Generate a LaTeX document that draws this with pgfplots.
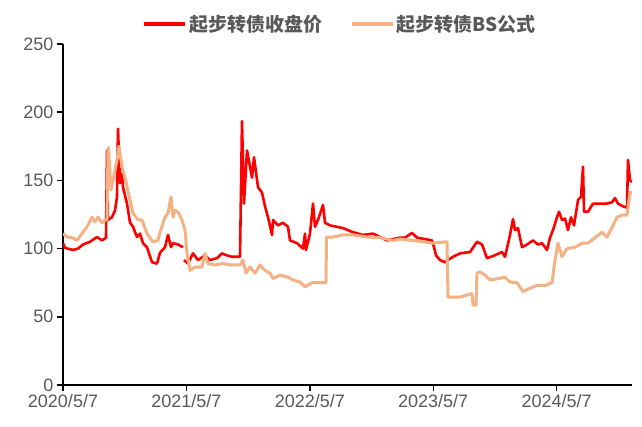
\documentclass[border=0pt]{standalone}
\usepackage{fontspec}
\setmainfont{Liberation Sans}
\newfontfamily\cjk{Noto Sans CJK SC}
\usepackage{pgfplots}
\pgfplotsset{compat=1.18}
\usepackage{pgfplotstable}
\definecolor{cred}{RGB}{255,0,0}
\definecolor{csal}{RGB}{244,177,131}
\definecolor{tgray}{RGB}{89,89,89}

% x: position along the time axis, one year = 123.4 units, 0 = 2020/5/7
\pgfplotstableread{
x y
0 104
2 100.5
10 99
15 100
20 103
27 105
34 108.5
39 106
43 108
44 172
45 121
49 123
52 128
54 138
55 188
57 148
59 155
60 145
64 133
67 119
70 116
74 108.5
77 111
80 104
84 101
89 90
94 89
97 97
102 101
105 110
108 101
110 104
115 103
120 101
120.5 nan
121 91.6
125 89
130 96.5
135 91.6
142 95
147 91.6
154 93
159 96.5
164 95
169 94
177 94
179 193.5
181 133
184 172
187 160
189 152
191 167
195 145
199 141
202 131
205 123
209 110
210 121
215 117
220 119
225 116
227 106
234 104
240 100
242 111
243 99
247 111
250 133
252 116
255 121
260 132
262 119
267 117
274 116
280 115
290 112
300 110
310 111
324 106
337 108
342 108
349 111.5
354 108
362 107
369 106
371 101
373 95
377 91.6
382 90
385 91.6
390 94
397 96.5
407 97.5
414 105
419 103
424 93
430 94.5
439 97.5
442 94
447 110
450 121.6
452 113.6
455 115
459 101
464 103
470 106
475 103
479 104
484 99
487 108
490 113.6
494 123
496 127
499 121
502 122
505 113.6
508 123
511 117
515 135.6
518 138
520 160
521 127
525 127
530 133
539 133
544 133
549 134
552 137
555 133
560 131
564 130
565 165
567 150
569 149
}\closeprice

\pgfplotstableread{
x y
0 111
4 108.5
9 108
14 106
19 111
24 116
29 123
32 119.5
35 123
39 119
42 121
44 121
45 172
45.5 174
48 143
50 150
54 165
56 175
59 160
62 152
67 135.6
70 126
75 121
79 121
84 111
90 105
95 106
97 112
102 123
105 126
108 138
110 123
112 128
115 127
119 121
122 113.6
124 96.5
127 84
132 86.5
139 86.5
142 96.5
145 89
152 88
159 89
169 88
177 88
180 91.6
183 82
187 86.5
192 82
197 88
202 84
207 82
210 78
217 80.6
225 79
230 77
237 75.5
242 72
249 75
263 75
263.5 108.5
270 108.5
280 110
290 110
304 108.5
317 108
330 106
337 107
355 105.6
369 104
384 105
385 64.5
397 64.5
409 67
410 58.6
413 58.6
414 82
417 83
422 80.6
427 77
435 78
442 79
447 75.5
454 75
460 68.5
467 71
474 73
482 73
489 75
492 91.6
495 104
499 94
504 100
512 101
519 104
525 104
532 108
539 112
544 108.5
550 117
554 123
559 124.6
564 124.6
567 141
569 141.5
}\bsvalue

\begin{document}
\begin{tikzpicture}
\begin{axis}[
  at={(0pt,0pt)}, anchor=south west,
  scale only axis, width=569pt, height=341pt,
  xmin=0, xmax=569, ymin=0, ymax=250,
  axis x line*=bottom, axis y line*=left,
  axis line style={-, black, line width=1.4pt},
  xtick={0,123.4,246.8,370.2,493.6},
  xticklabels={2020/5/7,2021/5/7,2022/5/7,2023/5/7,2024/5/7},
  ytick={0,50,100,150,200,250},
  tick align=outside, major tick length=6pt,
  tick style={black, line width=1.4pt},
  ticklabel style={font=\fontsize{18}{20}\selectfont, text=tgray},
  /pgf/number format/assume math mode=true,
  unbounded coords=jump,
  legend style={at={(0.487,1.059)}, anchor=center, draw=none, fill=none,
    legend columns=2, font=\cjk\bfseries\fontsize{19}{22}\selectfont, text=tgray,
    /tikz/every even column/.append style={column sep=26pt},
    inner sep=0pt},
  legend image code/.code={\draw[#1, line width=3.5pt] (0pt,0pt) -- (41pt,0pt);},
]
\addplot[cred, line width=2.6pt, line join=round] table[x=x,y=y] {\closeprice};
\addlegendentry{起步转债收盘价}
\addplot[csal, line width=3pt, line join=round] table[x=x,y=y] {\bsvalue};
\addlegendentry{起步转债BS公式}
\end{axis}
\pgfresetboundingbox
\path[use as bounding box] (-63pt,-41pt) rectangle (579pt,385pt);
\end{tikzpicture}
\end{document}
